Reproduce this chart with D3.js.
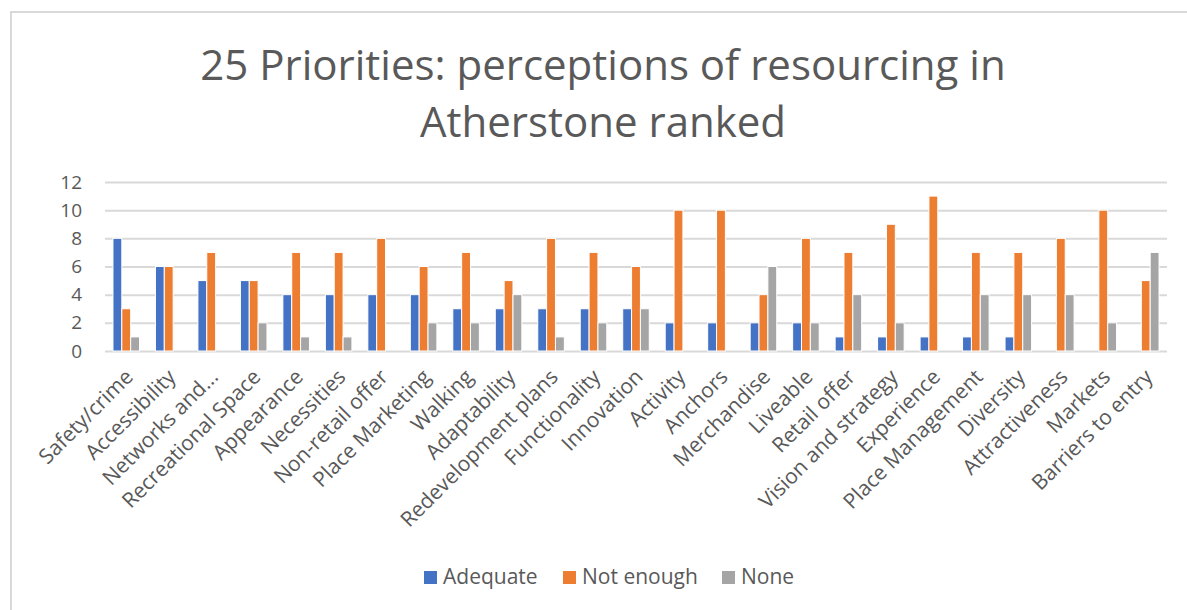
<!DOCTYPE html>
<html><head><meta charset="utf-8">
<script src="https://cdn.jsdelivr.net/npm/d3@7/dist/d3.min.js"></script>
<style>body{margin:0;background:#fff}svg{display:block}</style>
</head><body>
<svg id="c" width="1187" height="610"></svg>
<script>
const categories = ["Safety/crime","Accessibility","Networks and...","Recreational Space","Appearance","Necessities","Non-retail offer","Place Marketing","Walking","Adaptability","Redevelopment plans","Functionality","Innovation","Activity","Anchors","Merchandise","Liveable","Retail offer","Vision and strategy","Experience","Place Management","Diversity","Attractiveness","Markets","Barriers to entry"];
const adequate  = [8,6,5,5,4,4,4,4,3,3,3,3,3,2,2,2,2,1,1,1,1,1,0,0,0];
const notEnough = [3,6,7,5,7,7,8,6,7,5,8,7,6,10,10,4,8,7,9,11,7,7,8,10,5];
const none      = [1,0,0,2,1,1,0,2,2,4,1,2,3,0,0,6,2,4,2,0,4,4,4,2,7];
const seriesNames = ["Adequate","Not enough","None"];
const seriesColors = ["#4472C4","#ED7D31","#A5A5A5"];
const yTicks = [0,2,4,6,8,10,12];
const titleLines = ["25 Priorities: perceptions of resourcing in","Atherstone ranked"];

const series = [adequate, notEnough, none];
const font = "'Open Sans', Lato, sans-serif";
const svg = d3.select("#c");
const txt = "#595959";

// chart border (top and left edges visible)
svg.append("rect").attr("x",11).attr("y",12).attr("width",1200).attr("height",640)
  .attr("fill","#fff").attr("stroke","#D9D9D9").attr("stroke-width",2);

const pL = 105, pR = 1167, pT = 182, pB = 351;
const x0 = d3.scaleBand().domain(categories).range([pL,pR]).paddingInner(0).paddingOuter(0);
const x1 = d3.scaleBand().domain(seriesNames).range([0,x0.bandwidth()]).paddingInner(0).paddingOuter(0.9);
const y = d3.scaleLinear().domain([0,12]).range([pB,pT]);

// title
svg.append("g").selectAll("text").data(titleLines).join("text")
  .attr("x",603).attr("y",(d,i)=>80+i*57).attr("text-anchor","middle")
  .attr("font-family",font).attr("font-size",42).attr("fill",txt).text(d=>d);

// grid
const yAxis = d3.axisLeft(y).tickValues(yTicks).tickSize(-(pR-pL)).tickPadding(23);
const gy = svg.append("g").attr("transform",`translate(${pL},0)`).call(yAxis);
gy.select(".domain").remove();
gy.selectAll(".tick line").attr("stroke","#D9D9D9").attr("stroke-width",2);
gy.selectAll(".tick text").attr("font-family",font).attr("font-size",19).attr("fill",txt);

// bars
const g = svg.append("g");
categories.forEach((c,i)=>{
  series.forEach((s,j)=>{
    if (s[i] <= 0) return;
    g.append("rect")
      .attr("x",x0(c)+x1(seriesNames[j]))
      .attr("y",y(s[i]))
      .attr("width",x1.bandwidth())
      .attr("height",y(0)-y(s[i]))
      .attr("fill",seriesColors[j])
      .attr("stroke","#fff").attr("stroke-width",1);
  });
});

// x labels
const xAxis = d3.axisBottom(x0).tickSize(0).tickPadding(0);
const gx = svg.append("g").attr("transform",`translate(0,${pB})`).call(xAxis);
gx.select(".domain").remove();
gx.selectAll(".tick text")
  .attr("font-family",font).attr("font-size",21).attr("fill",txt)
  .attr("text-anchor","end").attr("dy","0.35em")
  .attr("transform","translate(3,22) rotate(-45)");

// legend
const lx = [424,563,722];
const lg = svg.append("g");
seriesNames.forEach((n,j)=>{
  lg.append("rect").attr("x",lx[j]).attr("y",571).attr("width",13).attr("height",13).attr("fill",seriesColors[j]);
  lg.append("text").attr("x",lx[j]+19).attr("y",584).attr("font-family",font).attr("font-size",21).attr("fill",txt).text(n);
});
</script>
</body></html>
